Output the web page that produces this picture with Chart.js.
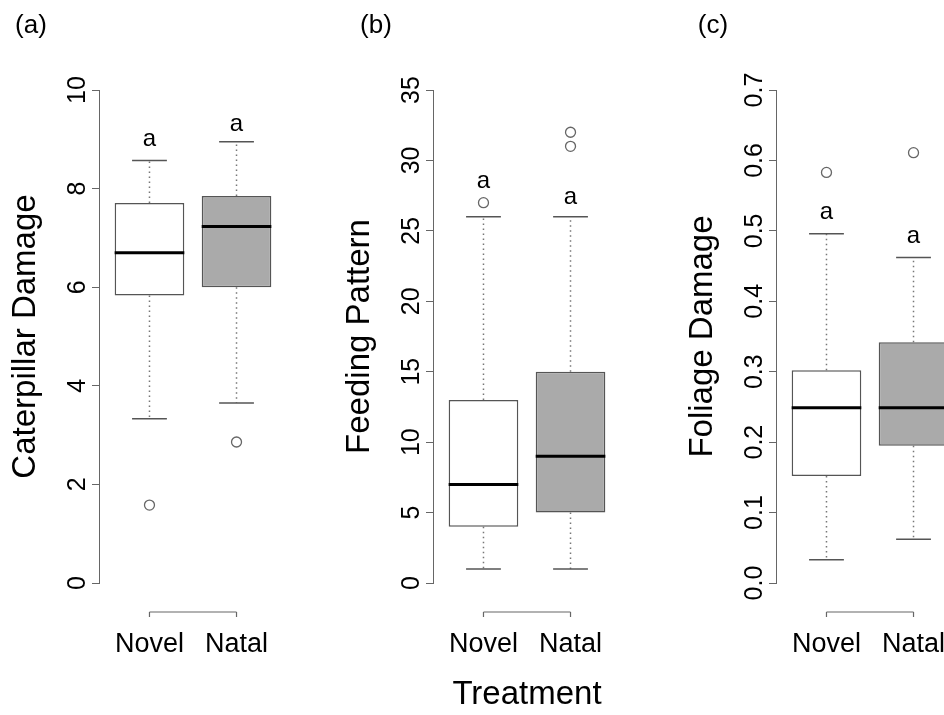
<!DOCTYPE html>
<html><head><meta charset="utf-8">
<script src="https://cdn.jsdelivr.net/npm/chart.js@4.4.1/dist/chart.umd.min.js"></script>
<style>
html,body{margin:0;padding:0;background:#fff;width:944px;height:715px;overflow:hidden;}
body{position:relative;}
canvas{position:absolute;top:0;}
</style></head><body>
<script>
// ---------- data ----------
const categories = ['Novel', 'Natal'];
const panelLabels = ['(a)', '(b)', '(c)'];
const yTitles = ['Caterpillar Damage', 'Feeding Pattern', 'Foliage Damage'];
const xTitle = 'Treatment';
// [lower whisker, Q1, median, Q3, upper whisker]
const caterpillarNovel = [3.33, 5.83, 6.70, 7.71, 8.57];
const caterpillarNatal = [3.65, 6.00, 7.23, 7.85, 8.95];
const caterpillarOutliers = [[1.58], [2.86]];
const feedingNovel = [1, 4, 7, 13, 26];
const feedingNatal = [1, 5, 9, 15, 26];
const feedingOutliers = [[27], [31, 32]];
const foliageNovel = [0.033, 0.152, 0.249, 0.302, 0.496];
const foliageNatal = [0.062, 0.195, 0.249, 0.342, 0.462];
const foliageOutliers = [[0.583], [0.611]];
// significance letters and the y value at which each is written
const letters = [['a', 'a'], ['a', 'a'], ['a', 'a']];
const letterValues = [[9.0, 9.31], [28.5, 27.4], [0.526, 0.492]];
const yMax = [10, 35, 0.7];
const yStep = [2, 5, 0.1];
const tickLabelsA = ['0', '2', '4', '6', '8', '10'];
const tickLabelsB = ['0', '5', '10', '15', '20', '25', '30', '35'];
const tickLabelsC = ['0.0', '0.1', '0.2', '0.3', '0.4', '0.5', '0.6', '0.7'];

// ---------- layout / style ----------
const panels = [
  {stats: [caterpillarNovel, caterpillarNatal], out: caterpillarOutliers, ticks: tickLabelsA},
  {stats: [feedingNovel, feedingNatal], out: feedingOutliers, ticks: tickLabelsB},
  {stats: [foliageNovel, foliageNatal], out: foliageOutliers, ticks: tickLabelsC}
];
const plotLeft = [99, 433, 776];
const panelLabelPos = [[31, 26], [376, 26], [713, 26]];
const LEFTW = 99, PLOTW = 188, CW = 320, CH = 715, TOP = 90, BOTTOM = 583;
const FONT = '"Liberation Sans", Arial, Helvetica, sans-serif';
const boxFill = ['#ffffff', '#aaaaaa'];

function drawPlugin(p) {
  return {
    id: 'boxdeco' + p,
    beforeDatasetsDraw(chart) {
      const ctx = chart.ctx, xs = chart.scales.x, ys = chart.scales.y;
      const st = panels[p].stats;
      ctx.save();
      st.forEach((s, i) => {
        const x = xs.getPixelForValue(i + 1);
        ctx.strokeStyle = '#777';
        ctx.lineWidth = 1.5;
        ctx.setLineDash([1.5, 3.5]);
        ctx.beginPath();
        ctx.moveTo(x, ys.getPixelForValue(s[3])); ctx.lineTo(x, ys.getPixelForValue(s[4]));
        ctx.moveTo(x, ys.getPixelForValue(s[1])); ctx.lineTo(x, ys.getPixelForValue(s[0]));
        ctx.stroke();
        ctx.setLineDash([]);
        ctx.strokeStyle = '#555';
        ctx.lineWidth = 1.5;
        const xl = xs.getPixelForValue(i + 1 - 0.2), xr = xs.getPixelForValue(i + 1 + 0.2);
        ctx.beginPath();
        [s[0], s[4]].forEach(v => { const y = ys.getPixelForValue(v); ctx.moveTo(xl, y); ctx.lineTo(xr, y); });
        ctx.stroke();
      });
      ctx.restore();
    },
    afterDatasetsDraw(chart) {
      const ctx = chart.ctx, xs = chart.scales.x, ys = chart.scales.y;
      const st = panels[p].stats;
      ctx.save();
      st.forEach((s, i) => {
        // median
        const xl = xs.getPixelForValue(i + 1 - 0.4), xr = xs.getPixelForValue(i + 1 + 0.4);
        const y = ys.getPixelForValue(s[2]);
        ctx.strokeStyle = '#000'; ctx.lineWidth = 3;
        ctx.beginPath(); ctx.moveTo(xl, y); ctx.lineTo(xr, y); ctx.stroke();
        // letters
        ctx.fillStyle = '#000';
        ctx.font = '24px ' + FONT;
        ctx.textAlign = 'center'; ctx.textBaseline = 'middle';
        ctx.fillText(letters[p][i], xs.getPixelForValue(i + 1), ys.getPixelForValue(letterValues[p][i]));
        // category labels
        ctx.font = '27px ' + FONT;
        ctx.fillText(categories[i], xs.getPixelForValue(i + 1), 645);
      });
      // x axis line
      const x1 = xs.getPixelForValue(1), x2 = xs.getPixelForValue(2);
      ctx.strokeStyle = '#666'; ctx.lineWidth = 1.2;
      ctx.beginPath();
      ctx.moveTo(x1, 612); ctx.lineTo(x2, 612);
      ctx.moveTo(x1, 612); ctx.lineTo(x1, 617);
      ctx.moveTo(x2, 612); ctx.lineTo(x2, 617);
      ctx.stroke();
      // y tick labels (rotated)
      ctx.fillStyle = '#000';
      ctx.font = '25px ' + FONT;
      ys.ticks.forEach((t, k) => {
        const yy = ys.getPixelForValue(t.value);
        ctx.save();
        ctx.translate(ys.right - 21, yy);
        ctx.rotate(-Math.PI / 2);
        ctx.textAlign = 'center'; ctx.textBaseline = 'middle';
        ctx.fillText(panels[p].ticks[k], 0, 0);
        ctx.restore();
      });
      // y title
      ctx.save();
      ctx.font = '33px ' + FONT;
      ctx.translate(ys.right - 73, (TOP + BOTTOM) / 2);
      ctx.rotate(-Math.PI / 2);
      ctx.textAlign = 'center'; ctx.textBaseline = 'middle';
      ctx.fillText(yTitles[p], 0, 0);
      ctx.restore();
      // panel label
      ctx.font = '26px ' + FONT;
      ctx.textAlign = 'center'; ctx.textBaseline = 'middle';
      ctx.fillText(panelLabels[p], panelLabelPos[p][0] - (plotLeft[p] - LEFTW), panelLabelPos[p][1]);
      if (p === 1) {
        ctx.font = '33px ' + FONT;
        ctx.fillText(xTitle, xs.getPixelForValue(1.5), 695);
      }
      ctx.restore();
    }
  };
}

panels.forEach((pan, p) => {
  const cv = document.createElement('canvas');
  cv.width = CW; cv.height = CH;
  cv.style.left = (plotLeft[p] - LEFTW) + 'px';
  cv.style.width = CW + 'px'; cv.style.height = CH + 'px';
  document.body.appendChild(cv);
  const outPts = [];
  pan.out.forEach((arr, i) => arr.forEach(v => outPts.push({x: i + 1, y: v})));
  new Chart(cv, {
    type: 'bar',
    data: {
      datasets: [
        {
          type: 'bar',
          data: pan.stats.map((s, i) => ({x: i + 1, y: [s[1], s[3]]})),
          backgroundColor: boxFill,
          borderColor: '#555',
          borderWidth: 1.5,
          borderSkipped: false,
          barPercentage: 0.8,
          categoryPercentage: 1.0
        },
        {
          type: 'scatter',
          data: outPts,
          pointRadius: 5,
          pointBackgroundColor: 'rgba(0,0,0,0)',
          pointBorderColor: '#666',
          pointBorderWidth: 1.3
        }
      ]
    },
    options: {
      responsive: false,
      animation: false,
      devicePixelRatio: 1,
      layout: {padding: {top: TOP, bottom: CH - BOTTOM, left: 0, right: CW - LEFTW - PLOTW}},
      plugins: {legend: {display: false}, tooltip: {enabled: false}},
      scales: {
        x: {
          type: 'linear', min: 0.42, max: 2.58, display: false, offset: false,
          grid: {offset: false},
          afterBuildTicks: s => { s.ticks = [{value: 1}, {value: 2}]; }
        },
        y: {
          min: 0, max: yMax[p],
          ticks: {stepSize: yStep[p], display: false},
          grid: {drawOnChartArea: false, drawTicks: true, tickLength: 7, color: '#666', lineWidth: 1},
          border: {color: '#666', width: 1},
          afterFit: s => { s.width = LEFTW; }
        }
      }
    },
    plugins: [drawPlugin(p)]
  });
});
</script>
</body></html>
